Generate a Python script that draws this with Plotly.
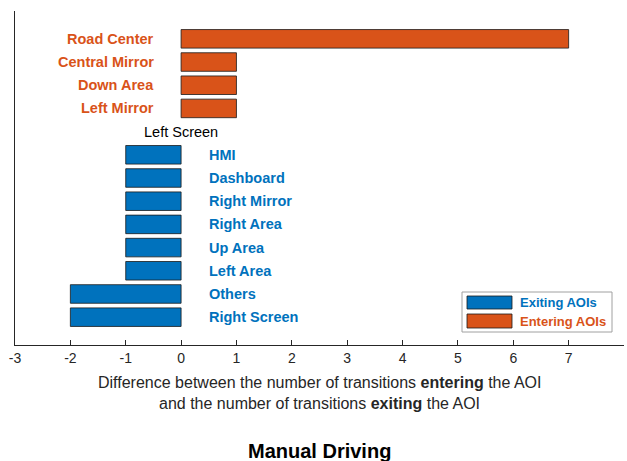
import plotly.graph_objects as go

categories = ["Road Center", "Central Mirror", "Down Area", "Left Mirror", "Left Screen",
              "HMI", "Dashboard", "Right Mirror", "Right Area", "Up Area", "Left Area",
              "Others", "Right Screen"]
values = [7, 1, 1, 1, 0, -1, -1, -1, -1, -1, -1, -2, -2]
x_ticks = list(range(-3, 9))
legend_labels = ["Exiting AOIs", "Entering AOIs"]

ORANGE = "#D95319"
BLUE = "#0072BD"
AX = "#262626"
FONT = "Liberation Sans, Arial, Helvetica, sans-serif"

n = len(categories)
ypos = [n - i for i in range(n)]

pos_y = [y for y, v in zip(ypos, values) if v > 0]
pos_v = [v for v in values if v > 0]
neg_y = [y for y, v in zip(ypos, values) if v < 0]
neg_v = [v for v in values if v < 0]

fig = go.Figure()
fig.add_trace(go.Bar(y=neg_y, x=neg_v, orientation="h", width=0.8,
                     marker=dict(color=BLUE, line=dict(color="#1a1a1a", width=0.8)),
                     showlegend=False, hoverinfo="skip"))
fig.add_trace(go.Bar(y=pos_y, x=pos_v, orientation="h", width=0.8,
                     marker=dict(color=ORANGE, line=dict(color="#1a1a1a", width=0.8)),
                     showlegend=False, hoverinfo="skip"))

annotations = []
for c, v, y in zip(categories, values, ypos):
    if v > 0:
        annotations.append(dict(x=-0.5, y=y, xref="x", yref="y", text="<b>%s</b>" % c,
                                showarrow=False, xanchor="right", yanchor="middle", xshift=3,
                                font=dict(family=FONT, size=14.5, color=ORANGE)))
    elif v < 0:
        annotations.append(dict(x=0.5, y=y, xref="x", yref="y", text="<b>%s</b>" % c,
                                showarrow=False, xanchor="left", yanchor="middle", xshift=-2,
                                font=dict(family=FONT, size=14.5, color=BLUE)))
    else:
        annotations.append(dict(x=0, y=y, xref="x", yref="y", text=c,
                                showarrow=False, xanchor="center", yanchor="middle",
                                font=dict(family=FONT, size=14.5, color="#000000")))

W, H = 627, 461
L, R, T, B = 15, 3, 11, 116
pw, ph = W - L - R, H - T - B

def px(x):
    return (x - L) / pw

def py(y):
    return (H - B - y) / ph

shapes = [
    dict(type="rect", xref="paper", yref="paper", x0=px(462), x1=px(612), y0=py(332), y1=py(292),
         line=dict(color="#a0a0a0", width=1), fillcolor="white", layer="above"),
    dict(type="rect", xref="paper", yref="paper", x0=px(467), x1=px(512), y0=py(309), y1=py(296),
         line=dict(color="#1a1a1a", width=0.8), fillcolor=BLUE, layer="above"),
    dict(type="rect", xref="paper", yref="paper", x0=px(467), x1=px(512), y0=py(328), y1=py(314),
         line=dict(color="#1a1a1a", width=0.8), fillcolor=ORANGE, layer="above"),
]
annotations.append(dict(x=px(518), y=py(302.5), xref="paper", yref="paper",
                        text="<b>%s</b>" % legend_labels[0], showarrow=False,
                        xanchor="left", yanchor="middle",
                        font=dict(family=FONT, size=13, color=BLUE)))
annotations.append(dict(x=px(518), y=py(321), xref="paper", yref="paper",
                        text="<b>%s</b>" % legend_labels[1], showarrow=False,
                        xanchor="left", yanchor="middle",
                        font=dict(family=FONT, size=13, color=ORANGE)))

annotations.append(dict(x=0.5, y=py(382), xref="paper", yref="paper",
                        text="Difference between the number of transitions <b>entering</b> the AOI",
                        showarrow=False, xanchor="center", yanchor="middle",
                        font=dict(family=FONT, size=16, color=AX)))
annotations.append(dict(x=0.5, y=py(404), xref="paper", yref="paper",
                        text="and the number of transitions <b>exiting</b> the AOI",
                        showarrow=False, xanchor="center", yanchor="middle",
                        font=dict(family=FONT, size=16, color=AX)))
annotations.append(dict(x=0.5, y=py(451), xref="paper", yref="paper",
                        text="<b>Manual Driving</b>",
                        showarrow=False, xanchor="center", yanchor="middle",
                        font=dict(family=FONT, size=20, color="#000000")))

fig.update_layout(
    width=W, height=H,
    margin=dict(l=L, r=R, t=T, b=B, autoexpand=False),
    paper_bgcolor="white", plot_bgcolor="white",
    shapes=shapes, annotations=annotations,
    xaxis=dict(range=[-3, 8], tickvals=x_ticks, ticktext=[str(t) for t in x_ticks],
               ticks="inside", ticklen=5, tickcolor=AX, showline=True, linecolor=AX,
               linewidth=1, showgrid=False, zeroline=False,
               tickfont=dict(family=FONT, size=14, color=AX)),
    yaxis=dict(range=[-0.2, 14.2], showline=True, linecolor=AX, linewidth=1,
               showticklabels=False, ticks="", showgrid=False, zeroline=False),
    showlegend=False,
)

fig.write_html("out.html", config={"displayModeBar": False},
               post_script="document.body.style.margin='0';document.body.style.overflow='hidden';")
